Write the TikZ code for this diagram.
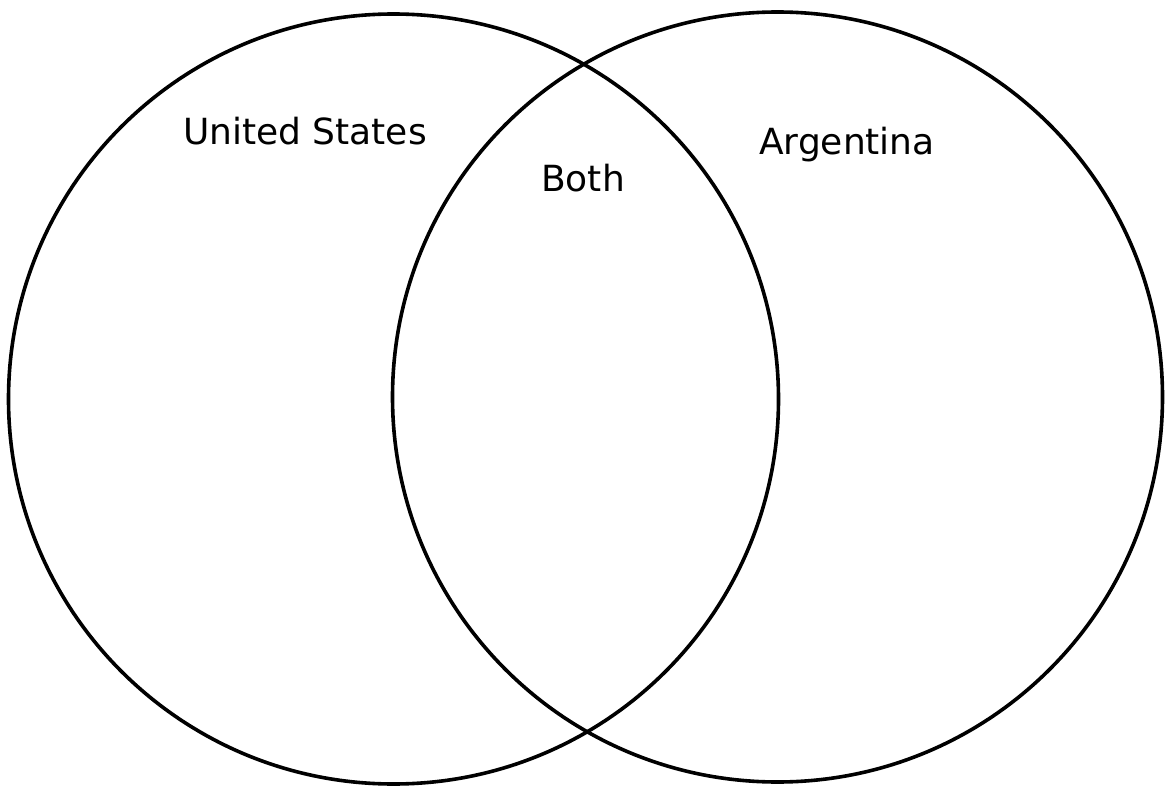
\documentclass[tikz,border=0pt]{standalone}
\usepackage{fontspec}
\setmainfont{DejaVu Sans}
\begin{document}
\begin{tikzpicture}[x=1pt,y=-1pt,
  ring/.style={draw=black, line width=3.6pt, circle, minimum size=770pt, inner sep=0pt},
  lbl/.style={font=\fontsize{36}{40}\selectfont, inner sep=0pt}]
\useasboundingbox (0,0) rectangle (1167,786);
\node[ring] (us) at (393.5,399) {};
\node[ring] (ar) at (777.5,397) {};
\node[lbl, anchor=base] (uslbl) at (305,145) {United States};
\node[lbl, anchor=base] (both) at (583,192) {Both};
\node[lbl, anchor=base] (arlbl) at (847,155) {Argentina};
\end{tikzpicture}
\end{document}
